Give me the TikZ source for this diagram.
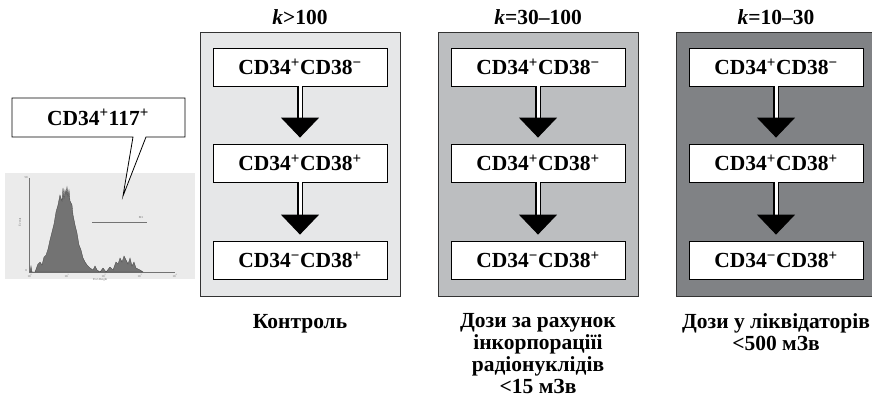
\documentclass[tikz,border=0pt]{standalone}
\usepackage{fontspec}
\setmainfont{Liberation Serif}
\usetikzlibrary{arrows.meta}
\definecolor{paneA}{HTML}{E6E7E8}
\definecolor{paneB}{HTML}{BCBEC0}
\definecolor{paneC}{HTML}{808285}
\newcommand{\plussup}{\textsuperscript{+}}
\newcommand{\minussup}{\textsuperscript{−}}

\begin{document}
\begin{tikzpicture}[x=1pt,y=-1pt,
  every node/.style={font=\fontsize{21.5}{22}\selectfont\bfseries},
  panel/.style={draw=black!80, line width=0.8pt, minimum width=200pt, minimum height=264pt, inner sep=0pt},
  cell/.style={draw=black, line width=0.8pt, fill=white, minimum width=174pt, minimum height=38pt, inner sep=0pt},
  flow/.style={double=white, double distance=3pt, line width=1.2pt, -{Triangle[length=20pt,width=38pt]}, shorten >=6pt},
  tiny/.style={font=\fontsize{3}{3}\selectfont, text=black!60, inner sep=0pt}]
\useasboundingbox (0,0) rectangle (872,398);
% histogram
\fill[black!8] (5,173) rectangle (195,279);
\draw[black!55, line width=0.4pt] (29,178) -- (29,272) -- (175,272);
\fill[black!55, draw=black!75, line width=0.3pt] plot coordinates {(30,272) (31,266) (32,272) (35,272) (38,264) (40,262) (42,265) (44,257)
  (46,255) (48,249) (50,240) (52,232) (54,224) (56,212) (58,205) (60,195) (62,201) (63,188) (64,198) (65,190) (66,194)
  (67,187) (68,196) (69,190) (70,201) (72,205) (73,215) (75,225) (77,233) (79,245) (81,250) (83,258) (85,262) (87,265)
  (90,268) (93,270) (95,266) (97,270) (100,272) (103,268) (106,272) (110,267) (113,270) (116,262) (118,264) (120,258)
  (122,262) (124,256) (126,260) (128,264) (130,258) (132,266) (134,262) (136,268) (140,270) (143,272)} -- cycle;
\draw[black!55, line width=0.5pt] (92,222) -- (147,222);
\node[tiny] (m1) at (141,218) {M1};
\node[tiny, rotate=90] (ev) at (20,222) {Events};
\node[tiny] (y1) at (26,178) {50};
\node[tiny] (y0) at (26,271) {0};
\node[tiny] (x0) at (30,276) {10\textsuperscript{0}};
\node[tiny] (x1) at (67,276) {10\textsuperscript{1}};
\node[tiny] (x2) at (104,276) {10\textsuperscript{2}};
\node[tiny] (x3) at (140,276) {10\textsuperscript{3}};
\node[tiny] (x4) at (175,276) {10\textsuperscript{4}};
\node[tiny] (fl) at (100,280) {FL2-Height};
% callout
\draw[line width=0.8pt, fill=white] (12,98) -- (185,98) -- (185,137) -- (146,137) -- (123,196) -- (133,137) -- (12,137) -- cycle;
\node (c0) at (98,117.5) {CD34\plussup 117\plussup};
% panels
\node[panel, fill=paneA] (p1) at (300,164) {};
\node[panel, fill=paneB] (p2) at (538,164) {};
\node[panel, fill=paneC] (p3) at (776,164) {};
\node (t1) at (300,17) {\textit{k}>100};
\node (t2) at (538,17) {\textit{k}=30–100};
\node (t3) at (776,17) {\textit{k}=10–30};
% cells
\node[cell] (a1) at (300,67) {CD34\plussup CD38\minussup};
\node[cell] (a2) at (300,163) {CD34\plussup CD38\plussup};
\node[cell] (a3) at (300,260) {CD34\minussup CD38\plussup};
\node[cell] (b1) at (538,67) {CD34\plussup CD38\minussup};
\node[cell] (b2) at (538,163) {CD34\plussup CD38\plussup};
\node[cell] (b3) at (538,260) {CD34\minussup CD38\plussup};
\node[cell] (c1) at (776,67) {CD34\plussup CD38\minussup};
\node[cell] (c2) at (776,163) {CD34\plussup CD38\plussup};
\node[cell] (c3) at (776,260) {CD34\minussup CD38\plussup};
\draw[flow] (a1) -- (a2);
\draw[flow] (a2) -- (a3);
\draw[flow] (b1) -- (b2);
\draw[flow] (b2) -- (b3);
\draw[flow] (c1) -- (c2);
\draw[flow] (c2) -- (c3);
% captions
\node[anchor=north] (l1) at (300,311) {Контроль};
\node[anchor=north, align=center] (l2) at (538,310) {Дози за рахунок\\інкорпораціїі\\радіонуклідів\\<15 мЗв};
\node[anchor=north, align=center] (l3) at (776,310) {Дози у ліквідаторів\\<500 мЗв};
\end{tikzpicture}
\end{document}
